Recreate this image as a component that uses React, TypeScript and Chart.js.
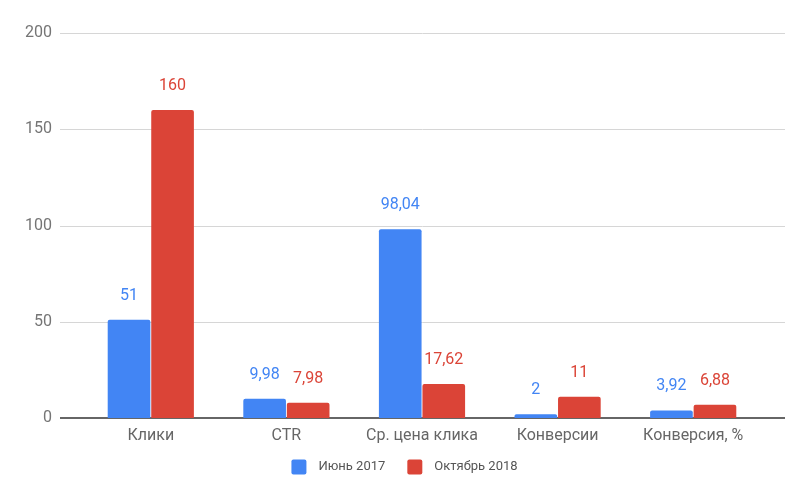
import React, { useEffect, useRef } from "react";
import { Chart, registerables } from "chart.js";

Chart.register(...registerables);

const categories = ["Клики", "CTR", "Ср. цена клика", "Конверсии", "Конверсия, %"];
const june2017 = [51, 9.98, 98.04, 2, 3.92];
const october2018 = [160, 7.98, 17.62, 11, 6.88];
const seriesNames = ["Июнь 2017", "Октябрь 2018"];
const seriesColors = ["#4285F4", "#DB4437"];
const yTicks = [0, 50, 100, 150, 200];

const FONT = "Roboto, 'Noto Sans', sans-serif";

const formatValue = (v: number) => String(v).replace(".", ",");

// Horizontal grid lines that run a little past the plot area on both sides
const wideGrid = {
  id: "wideGrid",
  beforeDatasetsDraw(chart: any) {
    const { ctx, chartArea, scales } = chart;
    const y = scales.y;
    ctx.save();
    yTicks.forEach((t) => {
      const py = Math.round(y.getPixelForValue(t));
      ctx.beginPath();
      if (t === 0) {
        ctx.strokeStyle = "#666666";
        ctx.lineWidth = 2;
        ctx.moveTo(chartArea.left - 23, py);
        ctx.lineTo(chartArea.right + 24, py);
      } else {
        ctx.strokeStyle = "#d6d6d6";
        ctx.lineWidth = 1;
        ctx.moveTo(chartArea.left - 23, py + 0.5);
        ctx.lineTo(chartArea.right + 24, py + 0.5);
      }
      ctx.stroke();
    });
    ctx.restore();
  },
};

// Value labels above each bar
const valueLabels = {
  id: "valueLabels",
  afterDatasetsDraw(chart: any) {
    const { ctx } = chart;
    ctx.save();
    ctx.font = `16px ${FONT}`;
    ctx.textAlign = "center";
    ctx.textBaseline = "middle";
    chart.data.datasets.forEach((ds: any, di: number) => {
      const meta = chart.getDatasetMeta(di);
      ctx.fillStyle = seriesColors[di];
      meta.data.forEach((bar: any, i: number) => {
        ctx.fillText(formatValue(ds.data[i]), bar.x, bar.y - 24);
      });
    });
    ctx.restore();
  },
};

// Centered legend row below the axis labels
const bottomLegend = {
  id: "bottomLegend",
  afterDraw(chart: any) {
    const { ctx, width } = chart;
    const box = 15;
    const textGap = 12;
    const itemGap = 22;
    const cy = 467;
    ctx.save();
    ctx.font = `13px ${FONT}`;
    ctx.textBaseline = "middle";
    ctx.textAlign = "left";
    const items = chart.data.datasets.map((ds: any, i: number) => ({
      label: ds.label,
      color: seriesColors[i],
      w: ctx.measureText(ds.label).width,
    }));
    const total =
      items.reduce((s: number, it: any) => s + box + textGap + it.w, 0) +
      itemGap * (items.length - 1);
    let x = width / 2 - total / 2;
    items.forEach((it: any) => {
      ctx.fillStyle = it.color;
      ctx.beginPath();
      ctx.roundRect(x, cy - box / 2, box, box, 2);
      ctx.fill();
      x += box + textGap;
      ctx.fillStyle = "#555555";
      ctx.fillText(it.label, x, cy);
      x += it.w + itemGap;
    });
    ctx.restore();
  },
};

export default function App() {
  const canvasRef = useRef<HTMLCanvasElement | null>(null);

  useEffect(() => {
    if (!canvasRef.current) return;
    const chart = new Chart(canvasRef.current, {
      type: "bar",
      data: {
        labels: categories,
        datasets: [
          {
            label: seriesNames[0],
            data: june2017,
            backgroundColor: seriesColors[0],
            borderRadius: 2,
            borderSkipped: "bottom",
            categoryPercentage: 0.642,
            barPercentage: 0.98,
          },
          {
            label: seriesNames[1],
            data: october2018,
            backgroundColor: seriesColors[1],
            borderRadius: 2,
            borderSkipped: "bottom",
            categoryPercentage: 0.642,
            barPercentage: 0.98,
          },
        ],
      },
      options: {
        responsive: false,
        animation: false,
        devicePixelRatio: 1,
        layout: { autoPadding: false, padding: { top: 33, right: 48, left: 0, bottom: 52 } },
        plugins: {
          tooltip: { enabled: false },
          legend: { display: false },
        },
        scales: {
          x: {
            grid: { display: false, drawTicks: false },
            border: { display: false },
            afterFit: (scale: any) => {
              scale.height = 30;
            },
            ticks: {
              font: { family: FONT, size: 16 },
              color: "#666666",
              padding: 8,
              maxRotation: 0,
            },
          },
          y: {
            min: 0,
            max: 200,
            afterFit: (scale: any) => {
              scale.width = 83;
              scale.paddingTop = 0;
              scale.paddingBottom = 0;
            },
            grid: { display: false, drawTicks: false },
            border: { display: false },
            ticks: {
              stepSize: 50,
              font: { family: FONT, size: 16 },
              color: "#757575",
              padding: 31,
            },
          },
        },
      },
      plugins: [wideGrid, valueLabels, bottomLegend],
    });
    return () => chart.destroy();
  }, []);

  return (
    <div style={{ position: "fixed", left: 0, top: 0, width: 809, height: 500, background: "#fff" }}>
      <canvas ref={canvasRef} width={809} height={500} />
    </div>
  );
}
